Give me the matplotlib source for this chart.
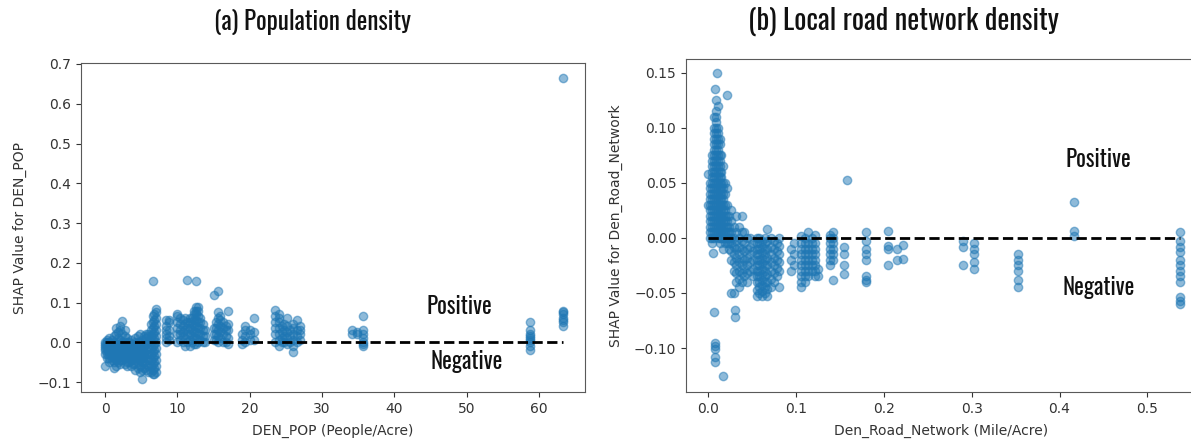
import matplotlib

matplotlib.use("Agg")
import matplotlib.pyplot as plt

# SHAP dependence values, grouped by x column: (x, [shap values])
POP_COLS = [
    (0.0, [-0.06, -0.03, -0.02, -0.015, -0.01, -0.005, 0.0]),
    (0.3, [-0.04, -0.03, -0.02, -0.01, 0.0, 0.005]),
    (0.6, [-0.05, -0.04, -0.03, -0.02, -0.01, 0.0, 0.01]),
    (0.9, [-0.045, -0.035, -0.025, -0.015, -0.005, 0.005]),
    (1.2, [-0.065, -0.05, -0.04, -0.03, -0.02, -0.01, 0.0, 0.015]),
    (1.5, [-0.06, -0.045, -0.035, -0.025, -0.015, -0.005, 0.02, 0.035]),
    (1.8, [-0.05, -0.04, -0.03, -0.02, -0.01, 0.0, 0.01, 0.025]),
    (2.1, [-0.055, -0.045, -0.035, -0.025, -0.015, -0.005, 0.005, 0.03, 0.04]),
    (2.4, [-0.045, -0.03, -0.02, -0.01, 0.0, 0.02, 0.053]),
    (2.7, [-0.055, -0.04, -0.03, -0.02, -0.01, 0.0, 0.015, 0.03]),
    (3.0, [-0.06, -0.05, -0.04, -0.03, -0.02, -0.01, 0.0, 0.01]),
    (3.3, [-0.05, -0.04, -0.03, -0.02, -0.01, 0.0]),
    (3.6, [-0.06, -0.045, -0.035, -0.02, -0.01, 0.005]),
    (3.9, [-0.055, -0.045, -0.035, -0.025, -0.015, -0.005]),
    (4.2, [-0.07, -0.055, -0.04, -0.03, -0.02, -0.01, 0.0, 0.01]),
    (4.5, [-0.065, -0.05, -0.04, -0.03, -0.02, -0.01, 0.0, 0.015]),
    (4.8, [-0.075, -0.06, -0.045, -0.035, -0.02, -0.01, 0.0, 0.02]),
    (5.1, [-0.092, -0.07, -0.05, -0.04, -0.03, -0.02, -0.01, 0.005]),
    (5.4, [-0.065, -0.05, -0.035, -0.025, -0.01, 0.0, 0.015]),
    (5.7, [-0.07, -0.055, -0.04, -0.03, -0.02, -0.005, 0.01, 0.02]),
    (6.0, [-0.075, -0.06, -0.045, -0.03, -0.015, 0.0, 0.015, 0.02]),
    (6.3, [-0.075, -0.06, -0.045, -0.03, -0.015, 0.0, 0.015, 0.03, 0.045]),
    (6.6, [-0.08, -0.07, -0.055, -0.04, -0.025, -0.01, 0.005, 0.02, 0.035, 0.05, 0.065, 0.155]),
    (6.8, [-0.08, -0.065, -0.05, -0.035, -0.02, -0.005, 0.01, 0.025, 0.04, 0.055, 0.07]),
    (7.0, [-0.075, -0.06, -0.045, -0.03, -0.015, 0.0, 0.015, 0.03, 0.045, 0.06, 0.075, 0.085]),
    (8.5, [0.0, 0.01, 0.02, 0.03, 0.04, 0.055]),
    (8.9, [0.005, 0.015, 0.03, 0.05, 0.055]),
    (10.0, [0.0, 0.02, 0.035, 0.05, 0.065, 0.072]),
    (10.4, [0.005, 0.02, 0.03, 0.045, 0.06]),
    (10.8, [0.0, 0.015, 0.025, 0.04, 0.055]),
    (11.1, [-0.01, 0.01, 0.03, 0.045, 0.06]),
    (11.4, [0.0, 0.02, 0.035, 0.05, 0.156]),
    (11.7, [-0.01, 0.005, 0.02, 0.035, 0.05, 0.06]),
    (12.0, [0.0, 0.015, 0.03, 0.045, 0.06]),
    (12.3, [-0.005, 0.01, 0.025, 0.04, 0.055, 0.07, 0.08]),
    (12.6, [-0.005, 0.01, 0.025, 0.04, 0.055, 0.07, 0.08, 0.09, 0.153]),
    (12.9, [0.0, 0.02, 0.035, 0.05, 0.065, 0.08, 0.09]),
    (13.2, [0.005, 0.02, 0.035, 0.05, 0.06]),
    (13.5, [0.0, 0.015, 0.03, 0.045]),
    (13.8, [0.0, 0.015, 0.03]),
    (15.0, [0.005, 0.02, 0.035, 0.12]),
    (15.3, [0.005, 0.02, 0.035, 0.05]),
    (15.6, [0.0, 0.015, 0.03, 0.045, 0.06, 0.075, 0.128]),
    (15.9, [0.01, 0.025, 0.04, 0.055, 0.065]),
    (16.3, [0.0, 0.02, 0.035, 0.05]),
    (16.7, [0.0, 0.015, 0.03, 0.04]),
    (17.0, [-0.005, 0.01, 0.03, 0.045, 0.08]),
    (18.9, [-0.005, 0.005, 0.02]),
    (19.4, [0.0, 0.015, 0.03, 0.04]),
    (20.0, [0.005, 0.02, 0.03]),
    (20.6, [0.005, 0.025, 0.06]),
    (23.5, [0.0, 0.02, 0.035, 0.05, 0.065, 0.082]),
    (24.0, [-0.01, 0.005, 0.02, 0.035, 0.05, 0.06, 0.07]),
    (24.4, [0.0, 0.01, 0.025, 0.04]),
    (24.8, [0.0, 0.015, 0.03, 0.045]),
    (25.2, [-0.005, 0.01, 0.025, 0.04, 0.06]),
    (25.6, [0.0, 0.015, 0.03]),
    (26.0, [-0.025, -0.01, 0.005, 0.02, 0.035, 0.045]),
    (26.5, [0.0, 0.015, 0.03, 0.055]),
    (26.9, [0.005, 0.02, 0.03, 0.04]),
    (34.2, [0.02, 0.03]),
    (34.8, [0.02, 0.025]),
    (35.6, [-0.01, -0.005, 0.0, 0.01, 0.02, 0.03, 0.065]),
    (58.7, [-0.02, -0.01, 0.0, 0.005, 0.01, 0.015, 0.02, 0.03, 0.05]),
    (63.3, [0.04, 0.05, 0.055, 0.06, 0.07, 0.075, 0.08, 0.665]),
]

ROAD_COLS = [
    (0.000, [0.03, 0.058]),
    (0.002, [0.0, 0.005, 0.01, 0.015, 0.02, 0.025, 0.03, 0.035, 0.04, 0.045, 0.05]),
    (0.004, [-0.005, 0.0, 0.005, 0.01, 0.015, 0.02, 0.025, 0.03, 0.035, 0.04, 0.045,
             0.05, 0.055, 0.06, 0.065, 0.07, 0.075]),
    (0.005, [-0.014]),
    (0.006, [0.0, 0.005, 0.01, 0.015, 0.02, 0.025, 0.03, 0.035, 0.04, 0.045, 0.05, 0.055,
             0.06, 0.065, 0.07, 0.075, 0.08, 0.085, 0.09, 0.095, 0.10, 0.11]),
    (0.007, [-0.067]),
    (0.008, [-0.113, -0.108, -0.101, -0.098, -0.095, 0.135]),
    (0.009, [0.005, 0.01, 0.015, 0.02, 0.025, 0.03, 0.035, 0.04, 0.045, 0.05, 0.055, 0.06,
             0.065, 0.07, 0.075, 0.08, 0.085, 0.09, 0.095, 0.10, 0.105, 0.11, 0.115, 0.125]),
    (0.0097, [0.15]),
    (0.011, [0.0, 0.005, 0.01, 0.015, 0.02, 0.025, 0.03, 0.035, 0.04, 0.045, 0.05, 0.055,
             0.06, 0.065, 0.07, 0.075, 0.08, 0.085, 0.09, 0.095, 0.10, 0.12]),
    (0.013, [-0.005, 0.0, 0.005, 0.01, 0.015, 0.02, 0.025, 0.03, 0.035, 0.04, 0.045, 0.05,
             0.055, 0.06, 0.065, 0.07, 0.075, 0.085, 0.09]),
    (0.015, [0.0, 0.005, 0.01, 0.015, 0.02, 0.025, 0.03, 0.035, 0.04, 0.045, 0.05, 0.055,
             0.06, 0.075]),
    (0.017, [-0.125, -0.01, 0.0, 0.005, 0.01, 0.015, 0.02, 0.025, 0.03, 0.035, 0.04,
             0.045, 0.05, 0.065]),
    (0.019, [-0.005, 0.0, 0.005, 0.01, 0.015, 0.02, 0.025, 0.03, 0.04, 0.05]),
    (0.021, [-0.005, 0.0, 0.005, 0.01, 0.015, 0.02, 0.03, 0.045, 0.13]),
    (0.024, [-0.01, -0.005, 0.0, 0.005, 0.01, 0.02]),
    (0.026, [-0.05, -0.02, -0.012, -0.005, 0.0, 0.005, 0.015, 0.025]),
    (0.029, [-0.05, -0.03, -0.022, -0.015, -0.008, 0.0, 0.01]),
    (0.030, [-0.065, -0.072]),
    (0.032, [-0.04, -0.032, -0.025, -0.018, -0.01, -0.003, 0.005, 0.02]),
    (0.035, [-0.045, -0.037, -0.03, -0.022, -0.015, -0.008, 0.0, 0.01]),
    (0.038, [-0.04, -0.032, -0.025, -0.018, -0.01, -0.003, 0.005, 0.02]),
    (0.041, [-0.035, -0.028, -0.02, -0.012, -0.005, 0.005]),
    (0.044, [-0.04, -0.032, -0.025, -0.018, -0.01, 0.0]),
    (0.047, [-0.03, -0.022, -0.015, -0.008, 0.0]),
    (0.051, [-0.035, -0.028, -0.02, -0.012, -0.005]),
    (0.055, [-0.053, -0.047, -0.04, -0.035, -0.03, -0.025, -0.02, -0.015, -0.01, -0.005, 0.0]),
    (0.058, [-0.05, -0.045, -0.04, -0.035, -0.03, -0.025, -0.02, -0.015, -0.01, -0.005, 0.0]),
    (0.061, [-0.053, -0.048, -0.043, -0.038, -0.033, -0.028, -0.023, -0.018, -0.013,
             -0.008, -0.003]),
    (0.064, [-0.05, -0.045, -0.04, -0.035, -0.03, -0.025, -0.02, -0.015, -0.01, -0.005, 0.0]),
    (0.067, [-0.053, -0.046, -0.04, -0.033, -0.025, -0.018, -0.01, -0.003, 0.008]),
    (0.071, [-0.045, -0.037, -0.03, -0.022, -0.015, -0.008, 0.0]),
    (0.075, [-0.04, -0.032, -0.025, -0.018, -0.01, -0.003]),
    (0.078, [-0.035, -0.027, -0.02, -0.012, -0.005]),
    (0.081, [-0.045, -0.03, -0.022, -0.015, -0.007, 0.0]),
    (0.094, [-0.03, -0.02, -0.01]),
    (0.098, [-0.025, -0.015, -0.005]),
    (0.106, [-0.045, -0.04, -0.035, -0.03, -0.025, -0.02, -0.015, -0.01, -0.005, 0.002]),
    (0.110, [-0.04, -0.035, -0.03, -0.025, -0.02, -0.015, -0.01, -0.005, 0.0]),
    (0.114, [-0.035, -0.03, -0.025, -0.02, -0.015, -0.01, -0.005, 0.005]),
    (0.118, [-0.03, -0.025, -0.02, -0.015, -0.01, -0.005, 0.0]),
    (0.122, [-0.035, -0.03, -0.025, -0.02, -0.015, -0.01, -0.005, 0.003]),
    (0.125, [-0.035, -0.028]),
    (0.139, [-0.025, -0.02, -0.015, -0.01, -0.005, 0.0, 0.003]),
    (0.142, [-0.038, -0.02, -0.015, -0.01, -0.005, 0.0, 0.005]),
    (0.155, [-0.033, -0.025, -0.015, -0.008]),
    (0.158, [0.053]),
    (0.180, [-0.04, -0.038, -0.035, -0.02, -0.015, -0.01, -0.003, 0.005]),
    (0.205, [-0.025, -0.01, -0.007, 0.006]),
    (0.215, [-0.02, -0.01]),
    (0.222, [-0.019, -0.006]),
    (0.290, [-0.025, -0.008, -0.003]),
    (0.303, [-0.028, -0.022, -0.015, -0.01, -0.005]),
    (0.353, [-0.045, -0.038, -0.03, -0.025, -0.02, -0.015]),
    (0.416, [0.002, 0.006, 0.033]),
    (0.537, [-0.06, -0.057, -0.054, -0.04, -0.035, -0.03, -0.025, -0.02,
             -0.013, -0.008, -0.003, 0.005]),
]

HEAD_FONT = ["Oswald", "Fjalla One", "Fira Sans Extra Condensed", "DejaVu Sans"]
TICK_COLOR = "#333333"


def flatten(cols):
    xs, ys = [], []
    for x, col in cols:
        xs += [x] * len(col)
        ys += col
    return xs, ys


def panel(ax, cols, xlim, ylim, xlabel, ylabel, pos_xy, neg_xy):
    xs, ys = flatten(cols)
    ax.scatter(xs, ys, s=36, color="#1f77b4", alpha=0.5)
    ax.plot([0, max(xs)], [0, 0], "k--", lw=2)
    ax.set_xlim(*xlim)
    ax.set_ylim(*ylim)
    ax.set_xlabel(xlabel, fontsize=10, color=TICK_COLOR, labelpad=6)
    ax.set_ylabel(ylabel, fontsize=10, color=TICK_COLOR, labelpad=8)
    ax.tick_params(labelsize=10, colors=TICK_COLOR)
    for sp in ax.spines.values():
        sp.set_color("0.35")
    for s, (x, y) in (("Positive", pos_xy), ("Negative", neg_xy)):
        ax.text(x, y, s, ha="center", va="center", fontsize=16.5,
                family=HEAD_FONT, color="#111111")


fig = plt.figure(figsize=(11.91, 4.44), dpi=100)
ax1 = fig.add_axes([0.068, 0.1171, 0.4232, 0.741])
ax2 = fig.add_axes([0.576, 0.1171, 0.4282, 0.75])

panel(ax1, POP_COLS, (-3.32, 66.36), (-0.125, 0.7025),
      "DEN_POP (People/Acre)", "SHAP Value for DEN_POP", (49.0, 0.089), (50.0, -0.049))
ax1.set_yticks([-0.1, 0.0, 0.1, 0.2, 0.3, 0.4, 0.5, 0.6, 0.7])

panel(ax2, ROAD_COLS, (-0.0254, 0.5554), (-0.14, 0.1627),
      "Den_Road_Network (Mile/Acre)", "SHAP Value for Den_Road_Network",
      (0.4446, 0.071), (0.4446, -0.045))
ax2.set_yticks([-0.10, -0.05, 0.0, 0.05, 0.10, 0.15])

fig.text(312 / 1191, 1 - 22 / 444, "(a) Population density", ha="center", va="center",
         fontsize=18, family=HEAD_FONT, color="#111111")
fig.text(903 / 1191, 1 - 21 / 444, "(b) Local road network density", ha="center",
         va="center", fontsize=20.5, family=HEAD_FONT, color="#111111")

fig.savefig("out.png", dpi=100)
